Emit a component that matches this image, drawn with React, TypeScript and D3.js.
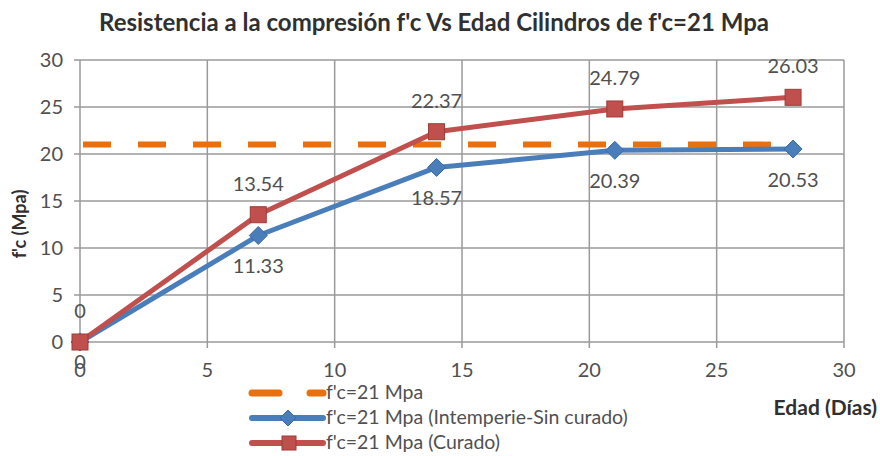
import React from "react";
import * as d3 from "d3";

const days = [0, 7, 14, 21, 28];
const sinCurado = [0, 11.33, 18.57, 20.39, 20.53];
const curado = [0, 13.54, 22.37, 24.79, 26.03];
const referencia = [21, 21];
const referenciaDays = [0, 28];
const xTicks = [0, 5, 10, 15, 20, 25, 30];
const yTicks = [0, 5, 10, 15, 20, 25, 30];
const seriesNames = ["f'c=21 Mpa", "f'c=21 Mpa (Intemperie-Sin curado)", "f'c=21 Mpa (Curado)"];
const title = "Resistencia a la compresión f'c Vs Edad Cilindros de f'c=21 Mpa";

const ORANGE = "#E8700E";
const BLUE = "#4A7EBB";
const RED = "#C0504D";
const GRID = "#9a9a9a";
const TXT = "#505050";
const FONT = "Lato, 'Open Sans', sans-serif";

export default function App() {
  const W = 880, H = 456;
  const x = d3.scaleLinear().domain([0, 30]).range([80, 844]);
  const y = d3.scaleLinear().domain([0, 30]).range([342, 60]);
  const line = d3.line<[number, number]>().x(d => x(d[0])).y(d => y(d[1]));
  const blueData: [number, number][] = days.map((d, i) => [d, sinCurado[i]]);
  const redData: [number, number][] = days.map((d, i) => [d, curado[i]]);
  const refData: [number, number][] = referenciaDays.map((d, i) => [d, referencia[i]]);
  const diamond = (cx: number, cy: number, r: number) =>
    `M${cx},${cy - r}L${cx + r},${cy}L${cx},${cy + r}L${cx - r},${cy}Z`;

  return (
    <svg width={W} height={H} style={{ position: "absolute", left: 0, top: 0, background: "#fff" }}>
      <rect width={W} height={H} fill="#fff" />
      <text x={434} y={31} textAnchor="middle" fontFamily={FONT} fontWeight="bold" fontSize={24} fill="#303030">
        {title}
      </text>
      {/* grid */}
      {yTicks.map(t => (
        <line key={"gy" + t} x1={x(0)} x2={x(30)} y1={y(t)} y2={y(t)} stroke={GRID} strokeWidth={1.5} />
      ))}
      {xTicks.map(t => (
        <line key={"gx" + t} x1={x(t)} x2={x(t)} y1={y(0)} y2={y(30)} stroke={GRID} strokeWidth={1.5} />
      ))}
      {/* tick marks */}
      {yTicks.map(t => (
        <line key={"ty" + t} x1={x(0) - 6} x2={x(0)} y1={y(t)} y2={y(t)} stroke={GRID} strokeWidth={1.5} />
      ))}
      {xTicks.map(t => (
        <line key={"tx" + t} x1={x(t)} x2={x(t)} y1={y(0)} y2={y(0) + 6} stroke={GRID} strokeWidth={1.5} />
      ))}
      {yTicks.map(t => (
        <text key={"ly" + t} x={63} y={y(t) + 7} textAnchor="end" fontFamily={FONT} fontSize={20} fill={TXT}>
          {t}
        </text>
      ))}
      {xTicks.map(t => (
        <text key={"lx" + t} x={x(t)} y={y(0) + 35} textAnchor="middle" fontFamily={FONT} fontSize={20} fill={TXT}>
          {t}
        </text>
      ))}
      <text transform={`translate(26,${224}) rotate(-90)`} textAnchor="middle" fontFamily={FONT} fontWeight="bold" fontSize={18} fill="#303030">
        f'c (Mpa)
      </text>
      <text x={877} y={415} textAnchor="end" fontFamily={FONT} fontWeight="bold" fontSize={21} fill="#303030">
        Edad (Días)
      </text>
      {/* reference dashed line */}
      <path d={line(refData) || ""} fill="none" stroke={ORANGE} strokeWidth={6} strokeDasharray="28 27" strokeDashoffset={52} />
      {/* blue */}
      <path d={line(blueData) || ""} fill="none" stroke={BLUE} strokeWidth={5} strokeLinejoin="round" />
      {blueData.map((d, i) => (
        <path key={"bm" + i} d={diamond(x(d[0]), y(d[1]), 9)} fill={BLUE} stroke="#3a6aa5" strokeWidth={1} />
      ))}
      {/* red */}
      <path d={line(redData) || ""} fill="none" stroke={RED} strokeWidth={5} strokeLinejoin="round" />
      {redData.map((d, i) => (
        <rect key={"rm" + i} x={x(d[0]) - 8} y={y(d[1]) - 8} width={16} height={16} fill={RED} stroke="#9e3b38" strokeWidth={1} />
      ))}
      {/* data labels */}
      {redData.map((d, i) => (
        <text key={"rl" + i} x={x(d[0])} y={y(d[1]) - 24} textAnchor="middle" fontFamily={FONT} fontSize={20} fill={TXT}>
          {curado[i] === 0 ? "0" : curado[i].toFixed(2)}
        </text>
      ))}
      {blueData.map((d, i) => (
        <text key={"bl" + i} x={x(d[0])} y={y(d[1]) + (sinCurado[i] === 0 ? 27 : 38)} textAnchor="middle" fontFamily={FONT} fontSize={20} fill={TXT}>
          {sinCurado[i] === 0 ? "0" : sinCurado[i].toFixed(2)}
        </text>
      ))}
      {/* legend */}
      {seriesNames.map((name, i) => {
        const ly = 393 + i * 25;
        return (
          <g key={"lg" + i}>
            {i === 0 && (
              <>
                <line x1={252} x2={279} y1={ly} y2={ly} stroke={ORANGE} strokeWidth={7} strokeLinecap="round" />
                <line x1={310} x2={323} y1={ly} y2={ly} stroke={ORANGE} strokeWidth={7} strokeLinecap="round" />
              </>
            )}
            {i === 1 && (
              <>
                <line x1={252} x2={323} y1={ly} y2={ly} stroke={BLUE} strokeWidth={6} strokeLinecap="round" />
                <path d={diamond(288, ly, 8)} fill={BLUE} stroke="#3a6aa5" />
              </>
            )}
            {i === 2 && (
              <>
                <line x1={252} x2={323} y1={ly} y2={ly} stroke={RED} strokeWidth={6} strokeLinecap="round" />
                <rect x={282} y={ly - 7} width={14} height={14} fill={RED} stroke="#9e3b38" />
              </>
            )}
            <text x={326} y={ly + 6} fontFamily={FONT} fontSize={19.5} fill={TXT}>
              {name}
            </text>
          </g>
        );
      })}
    </svg>
  );
}
